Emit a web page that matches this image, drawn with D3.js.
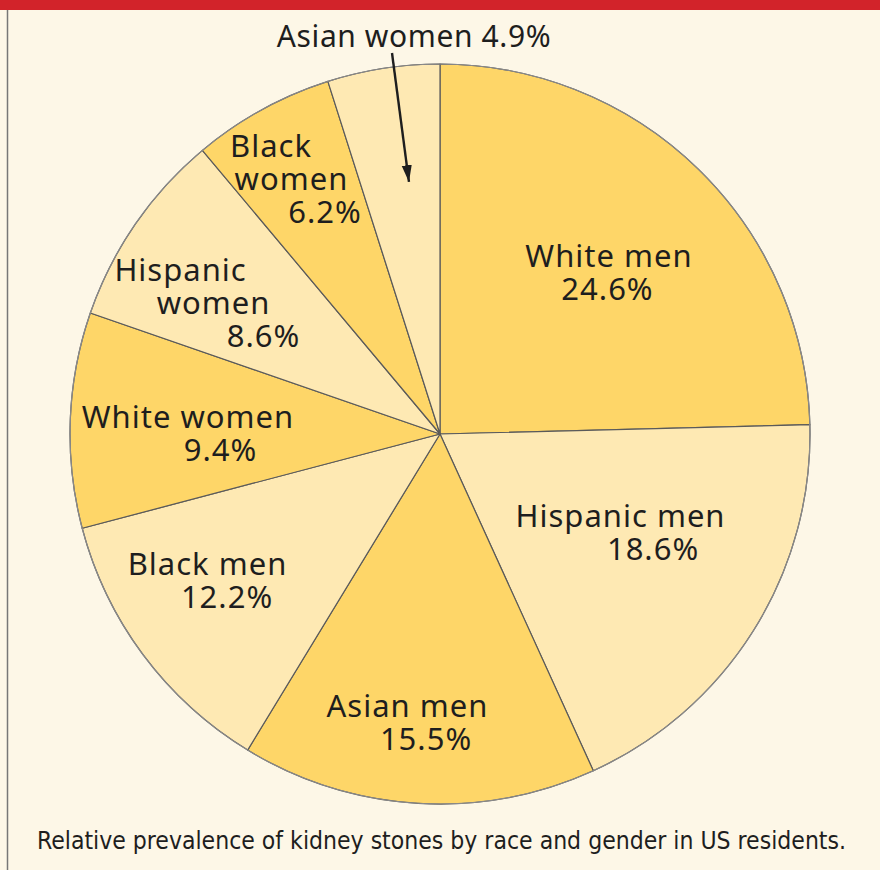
<!DOCTYPE html>
<html>
<head>
<meta charset="utf-8">
<script src="https://cdn.jsdelivr.net/npm/d3@7"></script>
<style>
  body { margin: 0; background: #fdf7e7; }
  svg { display: block; }
</style>
</head>
<body>
<svg id="chart" width="880" height="870"></svg>
<script>
const groups = ["White men", "Hispanic men", "Asian men", "Black men", "White women", "Hispanic women", "Black women", "Asian women"];
const shares = [24.6, 18.6, 15.5, 12.2, 9.4, 8.6, 6.2, 4.9];
// how each label is broken into lines
const labelLines = [
  ["White men", "24.6%"],
  ["Hispanic men", "18.6%"],
  ["Asian men", "15.5%"],
  ["Black men", "12.2%"],
  ["White women", "9.4%"],
  ["Hispanic", "women", "8.6%"],
  ["Black", "women", "6.2%"],
  ["Asian women 4.9%"]
];
const caption = "Relative prevalence of kidney stones by race and gender in US residents.";

const width = 880, height = 870;
const cx = 440, cy = 434, radius = 370;
const dark = "#fed668", light = "#fee9b3";

// label placement (first line baseline): distance from centre, angle nudge in degrees,
// and a horizontal shift for every line
const labelRadius = [237.6, 203.1, 284.9, 271.9, 252.1, 301.2, 324.5];
const labelNudge = [1.06, -4.78, 3.13, 5.49, -0.8, -4.04, -2.59];
const lineShift = [
  [0, -1.5], [0, 32.5], [0, 18.5], [0, 19.5], [0, 32.5], [0, 33, 83], [0, 20.5, 54]
];
const lineHeight = 33;
const rad = deg => deg * Math.PI / 180;

const svg = d3.select("#chart");

svg.append("rect").attr("x", 0).attr("y", 0).attr("width", width).attr("height", 10).attr("fill", "#d2232a");
svg.append("line").attr("x1", 7.5).attr("x2", 7.5).attr("y1", 10).attr("y2", height)
  .attr("stroke", "#777").attr("stroke-width", 1.5);

const pie = d3.pie().sort(null).value(d => d);
const arcs = pie(shares);
const arc = d3.arc().innerRadius(0).outerRadius(radius);

const g = svg.append("g").attr("transform", `translate(${cx},${cy})`);

g.selectAll("path.slice")
  .data(arcs)
  .enter()
  .append("path")
  .attr("class", "slice")
  .attr("d", arc)
  .attr("fill", (d, i) => i % 2 === 0 ? dark : light)
  .attr("stroke", "#5a5a5a")
  .attr("stroke-width", 1.2)
  .attr("stroke-linejoin", "round");

g.append("circle").attr("r", radius).attr("fill", "none")
  .attr("stroke", "#8a8a8a").attr("stroke-width", 1.2);

const font = "'Noto Sans', 'Open Sans', sans-serif";

// one text per slice, lines as tspans
arcs.slice(0, 7).forEach((d, i) => {
  const a = (d.startAngle + d.endAngle) / 2 + rad(labelNudge[i]);
  const r = labelRadius[i];
  const x = Math.sin(a) * r;
  const y = -Math.cos(a) * r;
  const label = g.append("text")
    .attr("text-anchor", "middle")
    .style("font-family", font)
    .style("font-size", "31px")
    .style("letter-spacing", "1px")
    .attr("fill", "#1e1e1e");
  labelLines[i].forEach((t, j) => {
    label.append("tspan")
      .attr("x", x + lineShift[i][j])
      .attr("y", y + j * lineHeight)
      .text(t);
  });
});

// Asian women label sits above the pie with an arrow pointing into its slice
const aw = arcs[7];
const awAngle = (aw.startAngle + aw.endAngle) / 2 + rad(1.8);
svg.append("text")
  .attr("x", 414).attr("y", 47)
  .attr("text-anchor", "middle")
  .style("font-family", font)
  .style("font-size", "30px")
  .style("letter-spacing", "0.6px")
  .attr("fill", "#1e1e1e")
  .text(labelLines[7][0]);

const tip = [cx + Math.sin(awAngle) * 254, cy - Math.cos(awAngle) * 254];
svg.append("defs").append("marker")
  .attr("id", "head").attr("viewBox", "0 0 10 10")
  .attr("refX", 10).attr("refY", 5)
  .attr("markerWidth", 7).attr("markerHeight", 7)
  .attr("markerUnits", "strokeWidth")
  .attr("orient", "auto")
  .append("path").attr("d", "M0,2 L10,5 L0,8 z").attr("fill", "#1e1e1e");

svg.append("line")
  .attr("x1", 392).attr("y1", 53)
  .attr("x2", tip[0]).attr("y2", tip[1])
  .attr("stroke", "#1e1e1e").attr("stroke-width", 2.4)
  .attr("marker-end", "url(#head)");

svg.append("text")
  .attr("x", 37).attr("y", 849)
  .attr("textLength", 809)
  .attr("lengthAdjust", "spacingAndGlyphs")
  .style("font-family", "'DejaVu Sans Condensed', 'Liberation Sans Narrow', 'Roboto', sans-serif")
  .style("font-size", "24px")
  .attr("fill", "#1e1e1e")
  .text(caption);
</script>
</body>
</html>
